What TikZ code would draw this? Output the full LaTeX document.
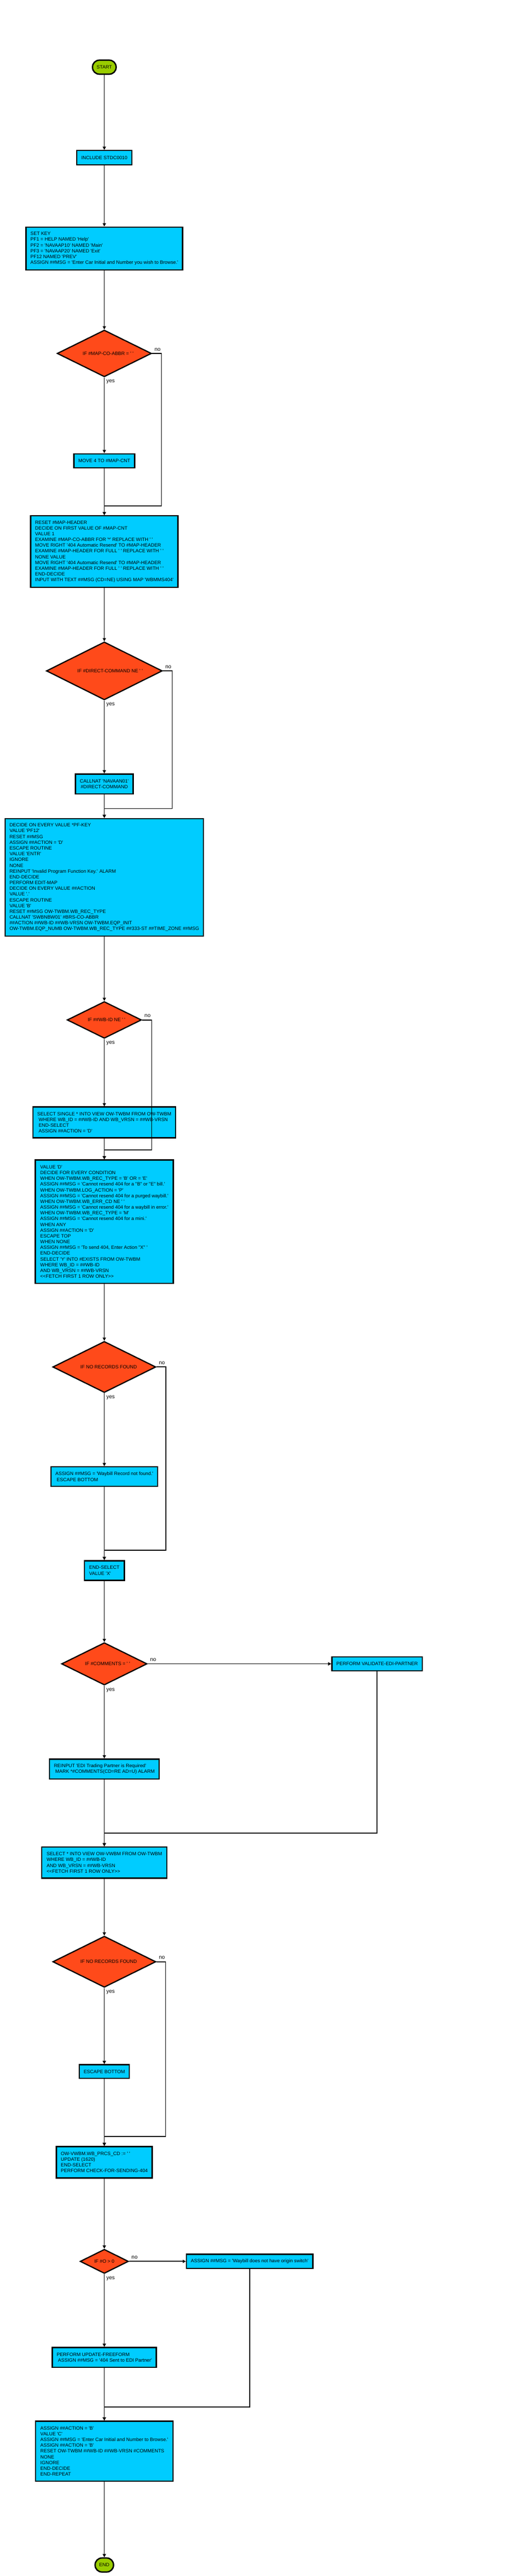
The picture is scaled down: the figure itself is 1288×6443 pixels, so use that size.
\documentclass[tikz,border=0pt]{standalone}
\usepackage{fontspec}
\setmainfont{Liberation Sans}[Ligatures=TeXOff]
\usetikzlibrary{shapes.geometric,arrows.meta,calc}
\definecolor{boxc}{HTML}{00CCFF}
\definecolor{diac}{HTML}{FF4A1A}
\definecolor{termc}{HTML}{99CC00}
\tikzset{
  base/.style={font=\fontsize{12pt}{14.4pt}\selectfont, text=black},
  proc/.style={base, draw=black, line width=3.2pt, fill=boxc, rectangle, align=left, inner xsep=11pt, inner ysep=0pt},
  procc/.style={proc, align=center},
  dec/.style={base, draw=black, line width=3pt, fill=diac, diamond, aspect=2, inner sep=0pt},
  term/.style={base, draw=black, line width=3.5pt, fill=termc, rectangle, rounded corners=17pt, inner sep=0pt},
  conn/.style={line width=2.2pt, draw=black},
  arr/.style={conn, -{Triangle[length=8pt,width=8pt]}},
  lbl/.style={font=\fontsize{13.5pt}{16pt}\selectfont, inner sep=0pt, text=black},
}
\begin{document}
\begin{tikzpicture}[x=1pt, y=-1pt]
\useasboundingbox (0,0) rectangle (1288,6443);

\node[term, minimum width=59pt, minimum height=35pt] (start) at (261,168) {START};
\node[procc, minimum width=138pt, minimum height=36pt] (inc) at (261,394.5) {INCLUDE STDC0010};
\node[proc, minimum width=391pt, minimum height=107pt] (setkey) at (261,621.5) {SET KEY\\PF1 = HELP NAMED 'Help'\\PF2 = 'NAVAAP10' NAMED 'Main'\\PF3 = 'NAVAAP20' NAMED 'Exit'\\PF12 NAMED 'PREV'\\ASSIGN \#\#MSG = 'Enter Car Initial and Number you wish to Browse.'};
\node[dec, minimum width=236pt, minimum height=117pt] (d1) at (261,884) {\hspace*{19pt}IF \#MAP-CO-ABBR = ' '};
\node[procc, minimum width=151pt, minimum height=35pt] (move4) at (261,1152.5) {MOVE 4 TO \#MAP-CNT};
\node[proc, minimum width=368pt, minimum height=179pt] (reset) at (261,1379.7) {RESET \#MAP-HEADER\\DECIDE ON FIRST VALUE OF \#MAP-CNT\\VALUE 1\\EXAMINE \#MAP-CO-ABBR FOR '*' REPLACE WITH ' '\\MOVE RIGHT '404 Automatic Resend' TO \#MAP-HEADER\\EXAMINE \#MAP-HEADER FOR FULL ' ' REPLACE WITH ' '\\NONE VALUE\\MOVE RIGHT '404 Automatic Resend' TO \#MAP-HEADER\\EXAMINE \#MAP-HEADER FOR FULL ' ' REPLACE WITH ' '\\END-DECIDE\\INPUT WITH TEXT \#\#MSG (CD=NE) USING MAP 'WBMMS404'};
\node[dec, minimum width=290pt, minimum height=145pt] (d2) at (261,1678) {\hspace*{29pt}IF \#DIRECT-COMMAND NE ' '};
\node[procc, minimum width=144pt, minimum height=50pt] (callnat) at (261,1961) {CALLNAT 'NAVAAN01'\\\#DIRECT-COMMAND};
\node[proc, minimum width=495pt, minimum height=294pt] (big1) at (261,2194.5) {DECIDE ON EVERY VALUE *PF-KEY\\VALUE 'PF12'\\RESET \#\#MSG\\ASSIGN \#\#ACTION = 'D'\\ESCAPE ROUTINE\\VALUE 'ENTR'\\IGNORE\\NONE\\REINPUT 'Invalid Program Function Key.' ALARM\\END-DECIDE\\PERFORM EDIT-MAP\\DECIDE ON EVERY VALUE \#\#ACTION\\VALUE '.'\\ESCAPE ROUTINE\\VALUE 'B'\\RESET \#\#MSG OW-TWBM.WB\_REC\_TYPE\\CALLNAT 'SWBNBW01' \#BRS-CO-ABBR\\\#\#ACTION \#\#WB-ID \#\#WB-VRSN OW-TWBM.EQP\_INIT\\OW-TWBM.EQP\_NUMB OW-TWBM.WB\_REC\_TYPE \#\#333-ST \#\#TIME\_ZONE \#\#MSG};
\node[dec, minimum width=186pt, minimum height=92pt] (d3) at (261,2551) {\hspace*{11pt}IF \#\#WB-ID NE ' '};
\node[proc, minimum width=356pt, minimum height=77pt] (selsingle) at (261,2807.3) {SELECT SINGLE * INTO VIEW OW-TWBM FROM OW-TWBM\\\ WHERE WB\_ID = \#\#WB-ID AND WB\_VRSN = \#\#WB-VRSN\\\ END-SELECT\\\ ASSIGN \#\#ACTION = 'D'};
\node[proc, minimum width=345pt, minimum height=308.6pt] (vald) at (261,3055.7) {VALUE 'D'\\DECIDE FOR EVERY CONDITION\\WHEN OW-TWBM.WB\_REC\_TYPE = 'B' OR = 'E'\\ASSIGN \#\#MSG = 'Cannot resend 404 for a "B" or "E" bill.'\\WHEN OW-TWBM.LOG\_ACTION = 'P'\\ASSIGN \#\#MSG = 'Cannot resend 404 for a purged waybill.'\\WHEN OW-TWBM.WB\_ERR\_CD NE ' '\\ASSIGN \#\#MSG = 'Cannot resend 404 for a waybill in error.'\\WHEN OW-TWBM.WB\_REC\_TYPE = 'M'\\ASSIGN \#\#MSG = 'Cannot resend 404 for a mini.'\\WHEN ANY\\ASSIGN \#\#ACTION = 'D'\\ESCAPE TOP\\WHEN NONE\\ASSIGN \#\#MSG = 'To send 404, Enter Action "X" '\\END-DECIDE\\SELECT 'Y' INTO \#EXISTS FROM OW-TWBM\\WHERE WB\_ID = \#\#WB-ID\\AND WB\_VRSN = \#\#WB-VRSN\\<<FETCH FIRST 1 ROW ONLY>>};
\node[dec, minimum width=258pt, minimum height=128pt] (d4) at (261,3419) {\hspace*{22pt}IF NO RECORDS FOUND};
\node[proc, minimum width=266pt, minimum height=49pt] (notfound) at (261,3693.3) {ASSIGN \#\#MSG = 'Waybill Record not found.'\\\ ESCAPE BOTTOM};
\node[proc, minimum width=100pt, minimum height=49pt] (endsel) at (261,3928) {END-SELECT\\VALUE 'X'};
\node[dec, minimum width=214pt, minimum height=106pt] (d5) at (261,4161.5) {\hspace*{16pt}IF \#COMMENTS = ' '};
\node[procc, minimum width=225pt, minimum height=35pt] (valid) at (943.5,4161.5) {PERFORM VALIDATE-EDI-PARTNER};
\node[proc, minimum width=273pt, minimum height=50pt] (reinput) at (261,4424.7) {REINPUT 'EDI Trading Partner is Required'\\\ MARK *\#COMMENTS(CD=RE AD=U) ALARM};
\node[proc, minimum width=313pt, minimum height=78pt] (selstar) at (261,4658.7) {SELECT * INTO VIEW OW-VWBM FROM OW-TWBM\\WHERE WB\_ID = \#\#WB-ID\\AND WB\_VRSN = \#\#WB-VRSN\\<<FETCH FIRST 1 ROW ONLY>>};
\node[dec, minimum width=258pt, minimum height=128pt] (d6) at (261,4906.6) {\hspace*{22pt}IF NO RECORDS FOUND};
\node[procc, minimum width=124pt, minimum height=34pt] (escbot) at (261,5181.2) {ESCAPE BOTTOM};
\node[proc, minimum width=239pt, minimum height=78.5pt] (owvwbm) at (261,5408.2) {OW-VWBM.WB\_PRCS\_CD := ' '\\UPDATE (1620)\\END-SELECT\\PERFORM CHECK-FOR-SENDING-404};
\node[dec, minimum width=121pt, minimum height=60.5pt] (d7) at (261,5656) {IF \#O > 0};
\node[procc, minimum width=315.5pt, minimum height=35pt] (origin) at (624.7,5656) {ASSIGN \#\#MSG = 'Waybill does not have origin switch'};
\node[proc, minimum width=260pt, minimum height=49.5pt] (update) at (261,5896.2) {PERFORM UPDATE-FREEFORM\\\ ASSIGN \#\#MSG = '404 Sent to EDI Partner'};
\node[proc, minimum width=344pt, minimum height=150pt] (final) at (261,6130.7) {ASSIGN \#\#ACTION = 'B'\\VALUE 'C'\\ASSIGN \#\#MSG = 'Enter Car Initial and Number to Browse.'\\ASSIGN \#\#ACTION = 'B'\\RESET OW-TWBM \#\#WB-ID \#\#WB-VRSN \#COMMENTS\\NONE\\IGNORE\\END-DECIDE\\END-REPEAT};
\node[term, minimum width=46pt, minimum height=35pt] (end) at (261,6415.4) {END};

\coordinate (c1) at (404,1265);
\coordinate (c2) at (431,2022.3);
\coordinate (c3) at (379.3,2876.4);
\coordinate (c4) at (415,3877.8);
\coordinate (c5) at (261,4585);
\coordinate (c6) at (414.3,5343.4);
\coordinate (c7) at (261,6020.4);

\draw[arr] (start) -- (inc);
\draw[arr] (inc) -- (setkey);
\draw[arr] (setkey) -- (d1);
\draw[arr] (d1) -- (move4);
\draw[arr] (move4) -- (reset);
\draw[arr] (d1.east) -| (c1) -| (reset.north);
\draw[arr] (reset) -- (d2);
\draw[arr] (d2) -- (callnat);
\draw[arr] (callnat) -- (big1);
\draw[arr] (d2.east) -| (c2) -| (big1.north);
\draw[arr] (big1) -- (d3);
\draw[arr] (d3) -- (selsingle);
\draw[arr] (selsingle) -- (vald);
\draw[arr] (d3.east) -| (c3) -| (vald.north);
\draw[arr] (vald) -- (d4);
\draw[arr] (d4) -- (notfound);
\draw[arr] (notfound) -- (endsel);
\draw[arr] (d4.east) -| (c4) -| (endsel.north);
\draw[arr] (endsel) -- (d5);
\draw[arr] (d5) -- (valid);
\draw[arr] (d5) -- (reinput);
\draw[arr] (valid.south) |- (c5) -- (selstar.north);
\draw[arr] (reinput) -- (selstar);
\draw[arr] (selstar) -- (d6);
\draw[arr] (d6) -- (escbot);
\draw[arr] (escbot) -- (owvwbm);
\draw[arr] (d6.east) -| (c6) -| (owvwbm.north);
\draw[arr] (owvwbm) -- (d7);
\draw[arr] (d7) -- (origin);
\draw[arr] (d7) -- (update);
\draw[arr] (origin.south) |- (c7) -- (final.north);
\draw[arr] (update) -- (final);
\draw[arr] (final) -- (end);

\foreach \d in {d1,d2,d3,d4,d5,d6,d7}{
  \node[lbl, anchor=west] at ($(\d.south)+(5,11)$) {yes};
  \node[lbl, anchor=west] at ($(\d.east)+(6,-10)$) {no};
}
\end{tikzpicture}
\end{document}
